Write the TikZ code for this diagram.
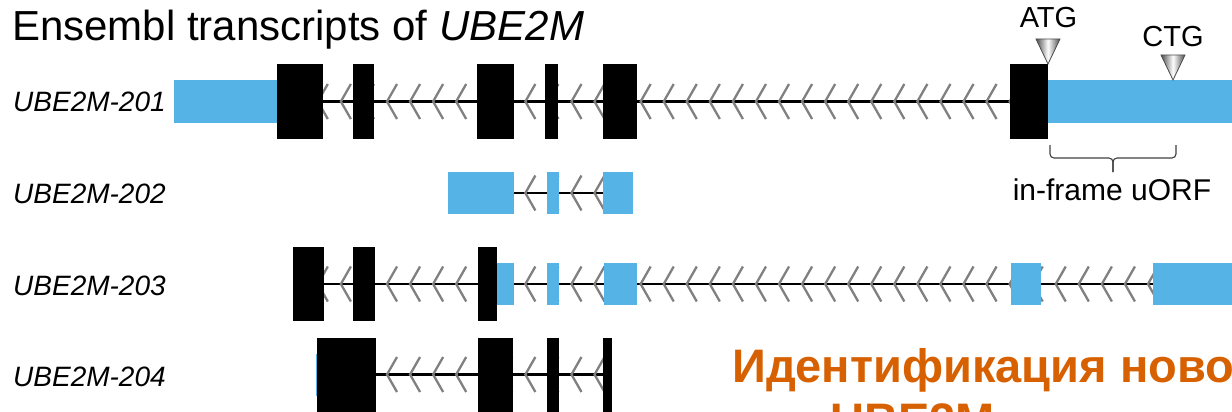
\documentclass[tikz,border=0pt]{standalone}
\usepackage{fontspec}
\setmainfont{Liberation Sans}
\usetikzlibrary{backgrounds}
\definecolor{exblue}{RGB}{86,179,230}
\definecolor{chevgray}{RGB}{128,128,128}
\definecolor{ttorange}{RGB}{215,96,0}
% style, name, x1, x2, yc, height
\newcommand\exn[6]{\node[#1, minimum width={(#4)-(#3)}, minimum height=#6, anchor=west] (#2) at (#3,#5) {};}
% yc, nmin, nmax
\newcommand\chevs[3]{\foreach \n in {#2,...,#3}{\pgfmathsetmacro\cx{387+23.06*\n}
  \draw[chev] (\cx+10,#1-17.5) -- (\cx,#1) -- (\cx+10,#1+17.5);}}
\begin{document}
\begin{tikzpicture}[x=1pt,y=-1pt,
  cds/.style={fill=black, inner sep=0pt, outer sep=0pt},
  utr/.style={fill=exblue, inner sep=0pt, outer sep=0pt},
  intron/.style={line width=2.6pt, black},
  chev/.style={draw=chevgray, line width=2.3pt},
  lbl/.style={font=\fontsize{28}{30}\selectfont\itshape, inner sep=0pt, anchor=west},
  codon/.style={font=\fontsize{29}{31}\selectfont, inner sep=0pt, anchor=base},
  tri/.style={draw=black!70, line width=0.8pt, left color=black!70, right color=black!70, middle color=white},
  bracket/.style={draw=black!75, line width=1.1pt, rounded corners=4pt},
]
\useasboundingbox (0,0) rectangle (1232,412);
\clip (0,0) rectangle (1232,412);

\node[font=\fontsize{42}{46}\selectfont, anchor=base west, inner sep=0pt] (title) at (12,41) {Ensembl transcripts of \textit{UBE2M}};

\node[lbl] (l1) at (13,102) {UBE2M-201};
\node[lbl] (l2) at (13,194) {UBE2M-202};
\node[lbl] (l3) at (13,286) {UBE2M-203};
\node[lbl] (l4) at (13,377) {UBE2M-204};

% row 1
\exn{utr}{r1u1}{174}{277}{101.5}{42}
\exn{cds}{r1e1}{277}{323}{101.5}{74}
\exn{cds}{r1e2}{353}{374}{101.5}{74}
\exn{cds}{r1e3}{477}{514}{101.5}{74}
\exn{cds}{r1e4}{545}{558}{101.5}{74}
\exn{cds}{r1e5}{603}{637}{101.5}{74}
\exn{cds}{r1e6}{1010}{1048}{101.5}{74}
\exn{utr}{r1u2}{1048}{1232}{101.5}{42}
% row 2
\exn{utr}{r2u1}{448}{514}{193}{42}
\exn{utr}{r2u2}{547}{559}{193}{42}
\exn{utr}{r2u3}{603}{633}{193}{42}
% row 3
\exn{cds}{r3e1}{293}{324}{284}{74}
\exn{cds}{r3e2}{353}{375}{284}{74}
\exn{cds}{r3e3}{478}{497}{284}{74}
\exn{utr}{r3u1}{497}{514}{284}{42}
\exn{utr}{r3u2}{547}{559}{284}{42}
\exn{utr}{r3u3}{604}{637}{284}{42}
\exn{utr}{r3u4}{1011}{1041}{284}{42}
\exn{utr}{r3u5}{1153}{1232}{284}{42}
% row 4
\exn{utr}{r4u1}{315.5}{318}{374.5}{42}
\exn{cds}{r4e1}{317}{376}{374.5}{74}
\exn{cds}{r4e2}{478}{513}{374.5}{74}
\exn{cds}{r4e3}{547}{559}{374.5}{74}
\exn{cds}{r4e4}{603}{612}{374.5}{74}

\begin{scope}[on background layer]
  \draw[intron] (r1e1.east) -- (r1e6.west);
  \chevs{101.5}{-3}{27}
  \draw[intron] (r2u1.east) -- (r2u3.west);
  \chevs{193}{6}{9}
  \draw[intron] (r3e1.east) -- (r3u5.west);
  \chevs{284}{-3}{33}
  \draw[intron] (r4e1.east) -- (r4e4.west);
  \chevs{374.5}{0}{9}
\end{scope}

% start codons
\node[codon] (atg) at (1048.5,28) {ATG};
\node[codon] (ctg) at (1173,47) {CTG};
\shadedraw[tri] (1036,39) -- (1060,39) -- (1048,64) -- cycle;
\shadedraw[tri] (1161,55) -- (1185,55) -- (1173,80) -- cycle;

% uORF bracket
\draw[bracket] (1050,145) -- (1050,158) -- (1113,158) -- (1113,172);
\draw[bracket] (1176,145) -- (1176,158) -- (1113,158) -- (1113,172);
\node[font=\fontsize{30}{32}\selectfont, anchor=base, inner sep=0pt] (uorf) at (1112,200) {in-frame uORF};

% orange slide title
\node[font=\fontsize{47}{54}\selectfont\bfseries, text=ttorange, anchor=base west, inner sep=0pt] (ru1) at (732,382) {Идентификация нового};
\node[font=\fontsize{47}{54}\selectfont\bfseries, text=ttorange, anchor=base west, inner sep=0pt] (ru2) at (830,436) {UBE2M};
\end{tikzpicture}
\end{document}
